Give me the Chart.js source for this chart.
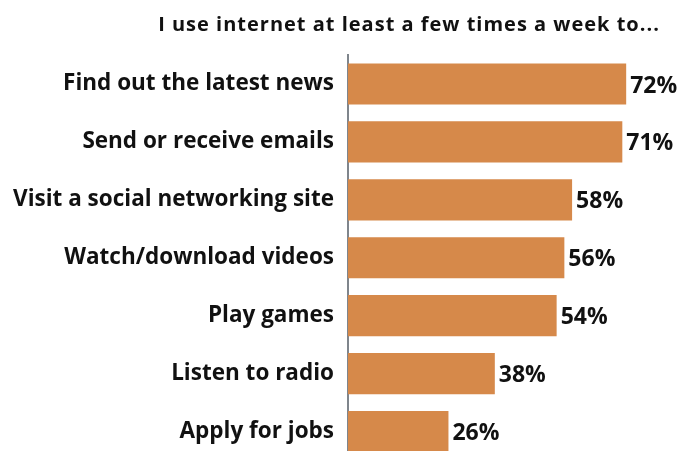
<!DOCTYPE html>
<html>
<head>
<meta charset="utf-8">
<script src="https://cdn.jsdelivr.net/npm/chart.js@4"></script>
<style>
  html, body { margin: 0; padding: 0; background: #fff; overflow: hidden; }
  canvas { display: block; }
</style>
</head>
<body>
<canvas id="netChart" width="688" height="488"></canvas>
<script>
const chartTitle = 'I use internet at least a few times a week to...';
const activities = [
  'Find out the latest news',
  'Send or receive emails',
  'Visit a social networking site',
  'Watch/download videos',
  'Play games',
  'Listen to radio',
  'Apply for jobs'
];
const shares = [72, 71, 58, 56, 54, 38, 26];

const FONT = '"Open Sans", "Noto Sans", sans-serif';

// value labels at the end of each bar + the heading
const barText = {
  id: 'barText',
  afterDatasetsDraw(chart) {
    const ctx = chart.ctx;
    const meta = chart.getDatasetMeta(0);
    ctx.save();
    ctx.fillStyle = '#111';
    ctx.font = 'bold 23px ' + FONT;
    ctx.textAlign = 'left';
    ctx.textBaseline = 'middle';
    meta.data.forEach((bar, i) => {
      ctx.fillText(shares[i] + '%', bar.x + 4, bar.y + 2);
    });
    ctx.font = 'bold 20px ' + FONT;
    ctx.letterSpacing = '1px';
    ctx.textAlign = 'center';
    ctx.fillText(chartTitle, 409, 25);
    ctx.restore();
  }
};

new Chart(document.getElementById('netChart'), {
  type: 'bar',
  data: {
    labels: activities,
    datasets: [{
      data: shares,
      backgroundColor: '#d6894a',
      barPercentage: 0.71,
      categoryPercentage: 1
    }]
  },
  options: {
    indexAxis: 'y',
    responsive: false,
    maintainAspectRatio: false,
    animation: false,
    layout: { autoPadding: false, padding: { top: 55, right: 0, bottom: 0, left: 0 } },
    plugins: { legend: { display: false }, tooltip: { enabled: false } },
    scales: {
      x: { display: false, min: 0, max: 88 },
      y: {
        afterFit: (s) => { s.width = 348; },
        grid: { display: false, drawTicks: false },
        border: { display: true, color: '#7f858c', width: 2 },
        ticks: { color: '#111', padding: 14, font: { family: FONT, size: 22.5, weight: 'bold' } }
      }
    }
  },
  plugins: [barText]
});
</script>
</body>
</html>
